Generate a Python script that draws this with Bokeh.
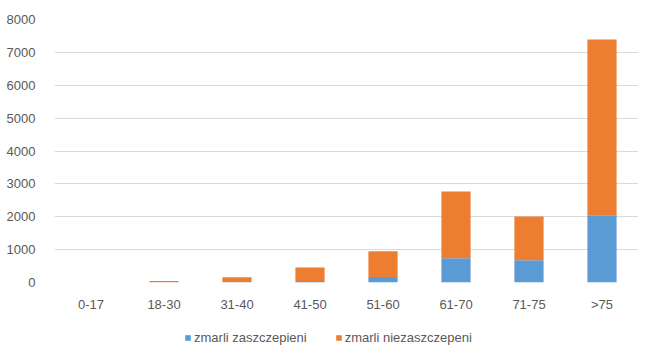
from bokeh.plotting import figure
from bokeh.layouts import column
from bokeh.models import Range1d, FixedTicker, Legend, LegendItem, ColumnDataSource
from bokeh.embed import file_html
from bokeh.resources import INLINE

categories = ["0-17", "18-30", "31-40", "41-50", "51-60", "61-70", "71-75", ">75"]
zaszczepieni = [0, 2, 10, 45, 170, 735, 675, 2045]
niezaszczepieni = [3, 40, 150, 415, 780, 2030, 1330, 5350]
y_ticks = [0, 1000, 2000, 3000, 4000, 5000, 6000, 7000, 8000]
series = ["zaszczepieni", "niezaszczepieni"]
labels = ["zmarli zaszczepieni", "zmarli niezaszczepeni"]
colors = ["#5B9BD5", "#ED7D31"]

FONT = "Liberation Sans"
TXT = "#595959"

data = dict(cat=categories, zaszczepieni=zaszczepieni, niezaszczepieni=niezaszczepieni)

p = figure(x_range=categories, y_range=Range1d(0, 8000), width=641, height=314,
           output_backend="svg", toolbar_location=None,
           min_border_left=54, min_border_right=3, min_border_top=19,
           min_border_bottom=31)
p.vbar_stack(series, x="cat", width=0.4, color=colors, source=data, line_width=0)

p.outline_line_color = None
p.background_fill_color = "white"
p.border_fill_color = "white"
p.xgrid.grid_line_color = None
p.ygrid.grid_line_color = "#d9d9d9"
p.ygrid.grid_line_width = 1
p.yaxis.ticker = FixedTicker(ticks=y_ticks)

for ax in (p.xaxis[0], p.yaxis[0]):
    ax.axis_line_color = None
    ax.major_tick_line_color = None
    ax.minor_tick_line_color = None
    ax.major_label_text_color = TXT
    ax.major_label_text_font = FONT
    ax.major_label_text_font_size = "13px"
p.yaxis.major_label_standoff = 13
p.xaxis.major_label_standoff = 8

# legend strip below the chart: zero-height bars kept far outside its view
legend_src = ColumnDataSource(dict(cat=categories,
                                   zaszczepieni=[0] * len(categories),
                                   niezaszczepieni=[0] * len(categories)))
pl = figure(x_range=categories, y_range=Range1d(50, 51), width=641, height=31,
            output_backend="svg", toolbar_location=None,
            min_border_left=0, min_border_right=0, min_border_top=0,
            min_border_bottom=0)
rs = pl.vbar_stack(series, x="cat", width=0.4, color=colors, source=legend_src, line_width=0)
pl.axis.visible = False
pl.grid.grid_line_color = None
pl.outline_line_color = None
pl.border_fill_color = "white"

legend = Legend(items=[LegendItem(label=labels[i], renderers=[rs[i]]) for i in range(2)],
                orientation="horizontal", location=(130, 0),
                label_text_font=FONT, label_text_font_size="13px",
                label_text_color=TXT, glyph_width=7, glyph_height=7,
                label_standoff=3, spacing=28, padding=4, margin=0,
                border_line_color=None, background_fill_alpha=0)
pl.add_layout(legend, "center")

layout = column(p, pl, spacing=0)
open("out.html", "w").write(file_html(layout, INLINE))
